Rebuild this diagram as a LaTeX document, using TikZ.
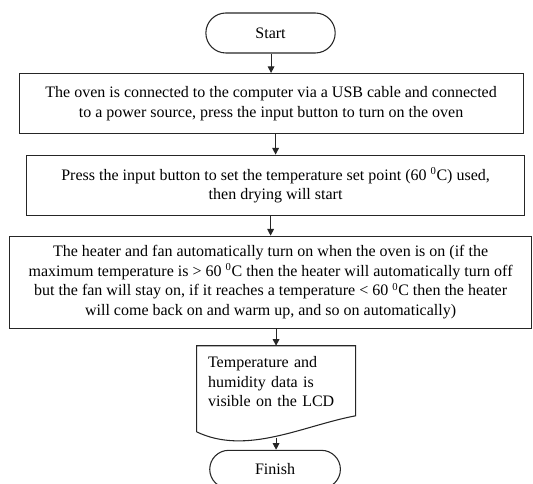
\documentclass[tikz,border=0pt]{standalone}
\usepackage{fontspec}
\setmainfont{Liberation Serif}
\usetikzlibrary{arrows.meta,positioning,shapes.misc}
\tikzset{
  blk/.style={draw=black!85,rectangle,line width=0.8pt,align=center,inner sep=2pt,font=\fontsize{12}{14.6}\selectfont},
  termblk/.style={blk,rounded rectangle,minimum width=101pt,minimum height=30pt},
  stepblk/.style={blk,minimum height=45pt},
  docblk/.style={blk,draw=none,align=left,inner xsep=8.25pt,text width=102pt,minimum height=53.25pt},
  docline/.style={draw=black!85,line width=0.8pt},
  arr/.style={-{Triangle[length=5pt,width=5pt]},line width=0.8pt,black!85}
}
\begin{document}
\begin{tikzpicture}
  \useasboundingbox (0,0) rectangle (399.75pt,-363pt);
  \node[termblk] (start) at (202.9pt,-24.75pt) {Start};
  \node[stepblk, below=14.6pt of start, xshift=0.4pt, minimum width=378pt] (conn)
    {The oven is connected to the computer via a USB cable and connected\\to a power source, press the input button to turn on the oven};
  \node[stepblk, below=15.4pt of conn, xshift=3.4pt, minimum width=374pt] (setpt)
    {Press the input button to set the temperature set point (60 \textsuperscript{0}C) used,\\then drying will start};
  \node[stepblk, below=15pt of setpt, xshift=-3.75pt, minimum width=392pt, minimum height=69pt] (heat)
    {The heater and fan automatically turn on when the oven is on (if the\\maximum temperature is > 60 \textsuperscript{0}C then the heater will automatically turn off\\but the fan will stay on, if it reaches a temperature < 60 \textsuperscript{0}C then the heater\\will come back on and warm up, and so on automatically)};
  \node[docblk, below=12.75pt of heat, xshift=4.1pt] (lcd)
    {Temperature and\\humidity data is\\visible on the LCD};
  \draw[docline] ([yshift=-10.5pt]lcd.south west) -- (lcd.north west) -- (lcd.north east)
    -- ([yshift=1.5pt]lcd.south east) .. controls +(-39.75pt,-7.5pt) and +(37.5pt,-18pt) .. ([yshift=-10.5pt]lcd.south west);
  \coordinate (lcdb) at ([yshift=-15pt]lcd.south);
  \node[termblk, below=24pt of lcd, xshift=-0.75pt, minimum width=102pt, minimum height=28.5pt] (fin) {Finish};

  \draw[arr] (conn.north |- start.south) -- (conn.north);
  \draw[arr] (setpt.north |- conn.south) -- (setpt.north);
  \draw[arr] (heat.north |- setpt.south) -- (heat.north);
  \draw[arr] (lcd.north |- heat.south) -- (lcd.north);
  \draw[arr] (lcdb) -- (lcdb |- fin.north);
\end{tikzpicture}
\end{document}
